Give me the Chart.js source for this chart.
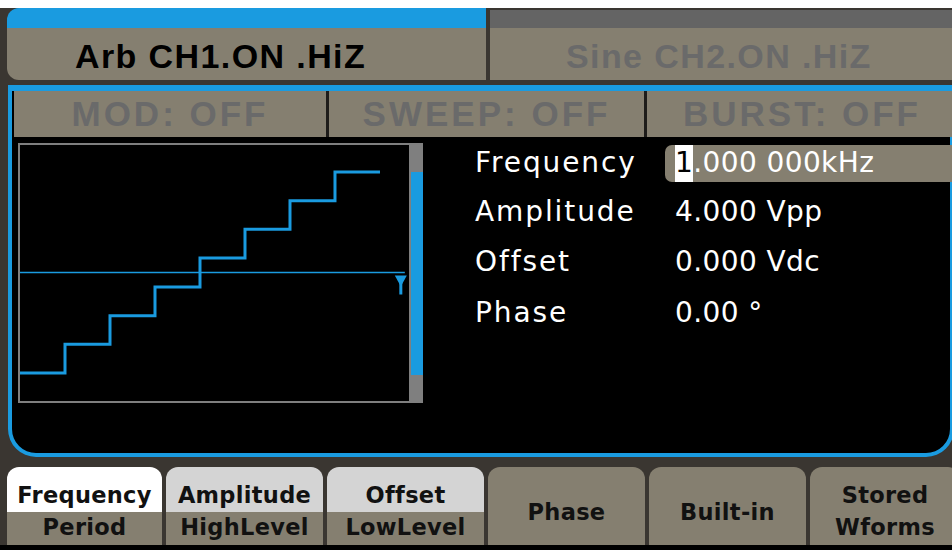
<!DOCTYPE html>
<html lang="en">
  <head>
    <meta charset="UTF-8" />
    <title>Arb CH1</title>
    <script src="https://cdn.jsdelivr.net/npm/chart.js"></script>
    <style>
      body { margin: 0; }
      #screen { position: relative; width: 952px; height: 550px; overflow: hidden; background: #3a3631; }
      .abs { position: absolute; box-sizing: border-box; }
      .khaki { background: #857f70; }
      .tabtxt { font: bold 34px "Liberation Sans", Arial, sans-serif; letter-spacing: 1.4px; line-height: 52px; white-space: pre; }
      .modtxt { font: bold 35px "Liberation Sans", Arial, sans-serif; letter-spacing: 3px; color: #6a6a6a; line-height: 46px; text-align: center; white-space: pre; }
      .param { font: 28px "DejaVu Sans", sans-serif; color: #fff; line-height: 28px; white-space: pre; }
      .key { font: bold 22.5px "DejaVu Sans", sans-serif; letter-spacing: 0.3px; color: #111; text-align: center; white-space: pre; line-height: 32px; }
    </style>
  </head>
  <body>
    <div id="screen"></div>

    <script>
      // waveform: one period of an 8-step staircase (time in ms, level in V)
      const stepTimes = [0, 0.125, 0.25, 0.375, 0.5, 0.625, 0.75, 0.875, 1.0];
      const stepLevels = [-2.0, -1.43, -0.86, -0.29, 0.29, 0.86, 1.43, 2.0, 2.0];
      const offsetLevel = 0;
      const offsetLineEnd = 1.069;

      const tabTitles = ["Arb CH1.ON .HiZ", "Sine CH2.ON .HiZ"];
      const modeLabels = ["MOD: OFF", "SWEEP: OFF", "BURST: OFF"];
      const paramLabels = ["Frequency", "Amplitude", "Offset", "Phase"];
      const paramValues = ["1.000 000kHz", "4.000 Vpp", "0.000 Vdc", "0.00 °"];
      const keyTop = ["Frequency", "Amplitude", "Offset", "Phase", "Built-in", "Stored\nWforms"];
      const keyBottom = ["Period", "HighLevel", "LowLevel", "", "", ""];

      const screen = document.getElementById("screen");
      function box(style, html, cls) {
        const d = document.createElement("div");
        d.className = "abs " + (cls || "");
        d.style.cssText = style;
        if (html !== undefined) d.innerHTML = html;
        screen.appendChild(d);
        return d;
      }

      // top strip + channel tabs
      box("left:0;top:0;width:952px;height:8px;background:#fff");
      box("left:7px;top:8px;width:479px;height:72px;border-radius:12px 0 0 12px;background:linear-gradient(#1a9be0 0 20px,#857f70 20px)");
      box("left:75px;top:30px;height:52px;color:#000", tabTitles[0], "tabtxt");
      box("left:490px;top:10px;width:470px;height:70px;background:linear-gradient(#646464 0 18px,#857f70 18px)");
      box("left:566px;top:30px;height:52px;color:#6a6a6a", tabTitles[1], "tabtxt");

      // blue frame with black display area
      box("left:8px;top:85px;width:946px;height:372px;background:#000;border:4px solid #1a9be0;border-top-width:6px;border-radius:0 0 28px 28px");

      // MOD / SWEEP / BURST row
      box("left:14px;top:91px;width:940px;height:46px", "", "khaki");
      const modCells = [[14, 312], [329, 315], [647, 310]];
      modCells.forEach((c, i) => {
        if (i > 0) box("left:" + (c[0] - 3) + "px;top:91px;width:3px;height:46px;background:#1e1c1a");
        box("left:" + c[0] + "px;top:91px;width:" + c[1] + "px;height:46px", modeLabels[i], "modtxt");
      });

      // waveform box + scroll bar
      box("left:18px;top:143px;width:393px;height:260px;border:2px solid #7f7f7f");
      box("left:411px;top:143px;width:12px;height:260px;background:#7f7f7f");
      box("left:411px;top:172px;width:12px;height:203px;background:#1a9be0");
      const wrap = box("left:20px;top:145px;width:389px;height:256px");
      const canvas = document.createElement("canvas");
      wrap.appendChild(canvas);

      // parameter list
      box("left:665px;top:145px;width:300px;height:37px;border-radius:7px 0 0 7px", "", "khaki");
      box("left:675px;top:145px;width:18px;height:37px;background:#fff");
      const baselines = [172, 221, 271, 322];
      paramLabels.forEach((t, i) => {
        box("left:475px;top:" + (baselines[i] - 23) + "px;letter-spacing:1.9px", t, "param");
        let v = paramValues[i];
        if (i === 0) v = '<span style="color:#000">' + v[0] + "</span>" + v.slice(1);
        box("left:675px;top:" + (baselines[i] - 23) + "px;letter-spacing:0.4px", v, "param");
      });

      // soft keys
      const keyX = [7, 166, 327, 488, 649, 810];
      const keyW = [155, 157, 157, 157, 157, 150];
      const keyTopBg = ["#ffffff", "#d4d4d4", "#d4d4d4"];
      box("left:0;top:545px;width:952px;height:5px;background:#000");
      keyX.forEach((x, i) => {
        if (keyBottom[i]) {
          box("left:" + x + "px;top:467px;width:" + keyW[i] + "px;height:78px;border-radius:12px 12px 0 0;background:linear-gradient(" + keyTopBg[i] + " 0 45px,#857f70 45px)");
          box("left:" + x + "px;top:479px;width:" + keyW[i] + "px", keyTop[i], "key");
          box("left:" + x + "px;top:511px;width:" + keyW[i] + "px", keyBottom[i], "key");
        } else {
          box("left:" + x + "px;top:467px;width:" + keyW[i] + "px;height:78px;border-radius:12px 12px 0 0", "", "khaki");
          const lines = keyTop[i].split("\n");
          const top = lines.length > 1 ? 479 : 496;
          box("left:" + x + "px;top:" + top + "px;width:" + keyW[i] + "px", lines.join("<br>"), "key");
        }
      });

      // trigger/offset marker drawn at the end of the offset line
      const offsetArrow = {
        id: "offsetArrow",
        afterDatasetsDraw: (chart) => {
          const ctx = chart.ctx;
          const x = chart.scales.x.getPixelForValue(offsetLineEnd) - 4;
          const y = chart.scales.y.getPixelForValue(offsetLevel);
          ctx.save();
          ctx.fillStyle = "#1a9be0";
          ctx.beginPath();
          ctx.moveTo(x - 6, y + 3);
          ctx.lineTo(x + 6, y + 3);
          ctx.lineTo(x, y + 14);
          ctx.closePath();
          ctx.fill();
          ctx.fillRect(x - 1.5, y + 10, 3, 12);
          ctx.restore();
        },
      };

      new Chart(canvas, {
        type: "line",
        data: {
          datasets: [
            {
              label: "Arb",
              data: stepTimes.map((t, i) => ({ x: t, y: stepLevels[i] })),
              stepped: "before",
              borderColor: "#1a9be0",
              borderWidth: 3,
              pointRadius: 0,
              fill: false,
            },
            {
              label: "Offset",
              data: [
                { x: 0, y: offsetLevel },
                { x: offsetLineEnd, y: offsetLevel },
              ],
              borderColor: "#1a9be0",
              borderWidth: 1.5,
              pointRadius: 0,
              fill: false,
            },
          ],
        },
        options: {
          responsive: true,
          maintainAspectRatio: false,
          animation: false,
          layout: { padding: 0 },
          scales: {
            x: { type: "linear", display: false, min: 0, max: 1.0806 },
            y: { display: false, min: -2.557, max: 2.537 },
          },
          plugins: {
            legend: { display: false },
            tooltip: { enabled: false },
          },
        },
        plugins: [offsetArrow],
      });
    </script>
  </body>
</html>
